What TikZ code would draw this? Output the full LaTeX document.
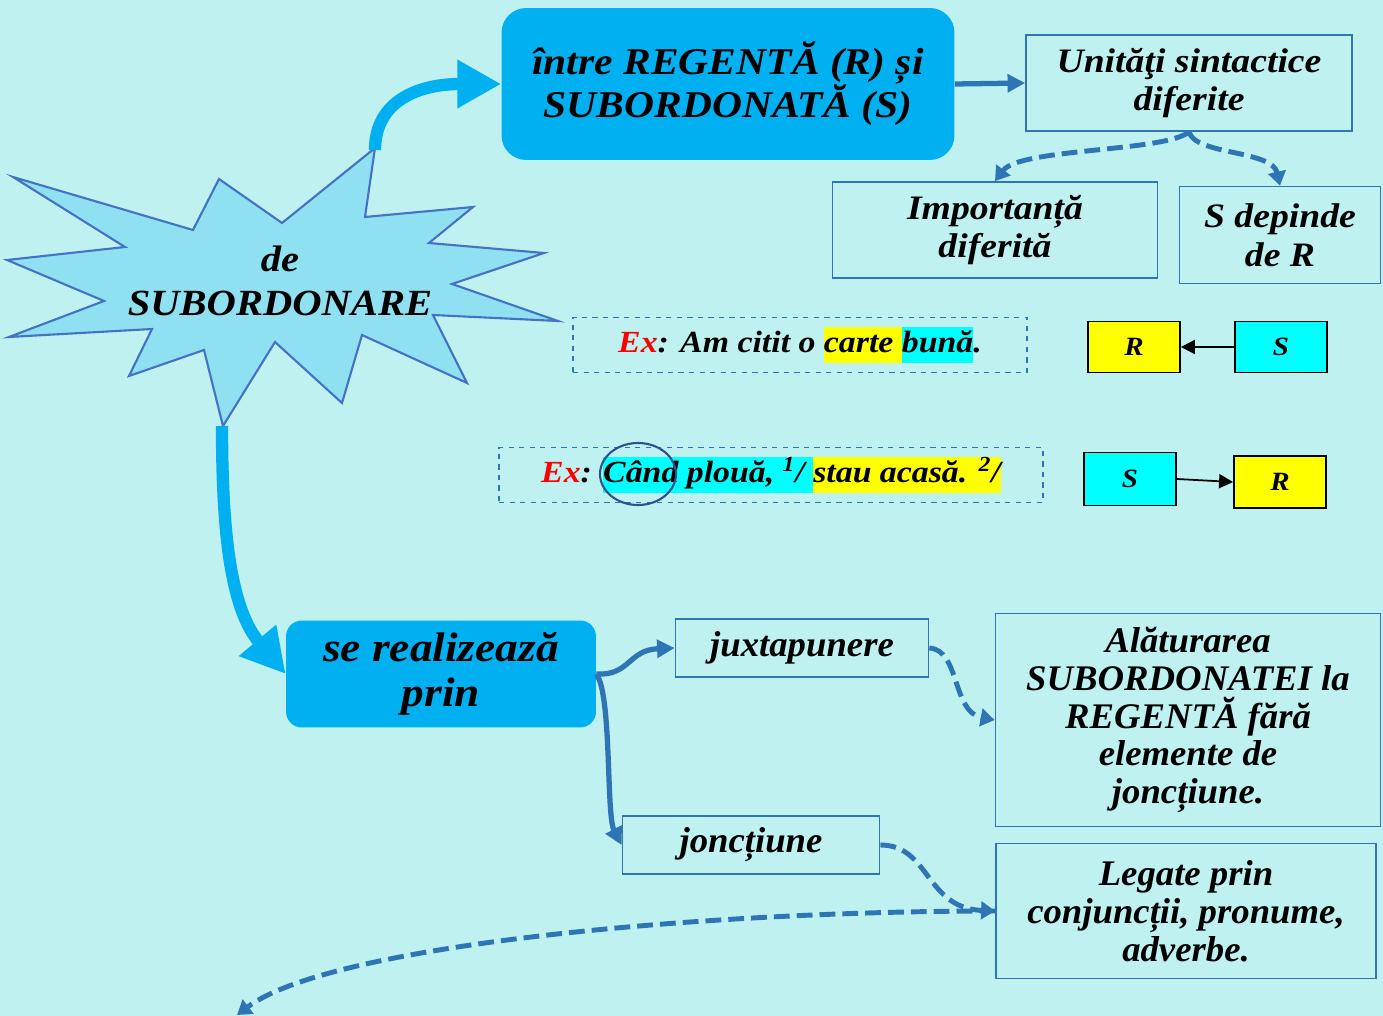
\documentclass[tikz,border=0pt]{standalone}
\usepackage{fontspec}
\setmainfont{Liberation Serif}[FakeStretch=1.1]
\newfontfamily\narrowfont[FakeStretch=1.02]{Liberation Serif}
\usepackage{xcolor}
\usetikzlibrary{arrows.meta, positioning}

\definecolor{bgcyan}{RGB}{191,241,241}
\definecolor{boxblue}{RGB}{0,176,240}
\definecolor{lineblue}{RGB}{46,117,182}
\definecolor{burstfill}{RGB}{143,224,240}
\definecolor{burstline}{RGB}{68,114,196}
\definecolor{ovalblue}{RGB}{47,80,143}
\definecolor{markyellow}{RGB}{255,255,0}
\definecolor{markcyan}{RGB}{0,255,255}

\newcommand{\hlyellow}[1]{{\setlength{\fboxsep}{0pt}\colorbox{markyellow}{\strut #1}}}
\newcommand{\hlcyan}[1]{{\setlength{\fboxsep}{0pt}\colorbox{markcyan}{\strut #1}}}

\begin{document}
\begin{tikzpicture} [x=0.02cm, y=-0.02cm,
                topic/.style={fill=boxblue, rounded corners=12pt, align=center, font=\fontsize{21.5}{24.5}\selectfont\bfseries\itshape},
                note/.style={draw=lineblue, line width=1pt, align=center, font=\fontsize{19.5}{22}\selectfont\bfseries\itshape},
                narrownote/.style={draw=lineblue, line width=1pt, align=center, font=\fontsize{20.5}{21.5}\selectfont\narrowfont\bfseries\itshape},
                example/.style={draw=lineblue, dashed, line width=0.8pt, font=\fontsize{17.5}{20}\selectfont\bfseries\itshape},
                rsbox/.style={draw=black, line width=1pt, minimum width=1.84cm, minimum height=1.02cm, font=\fontsize{15}{17}\selectfont\bfseries\itshape},
                bigarrow/.style={boxblue, line width=7pt, -{Triangle[length=25pt,width=26pt]}},
                linkarrow/.style={lineblue, line width=3pt, -{Triangle[length=10pt,width=10pt]}},
                dasharrow/.style={lineblue, line width=2.8pt, dash pattern=on 9pt off 4pt, -{Triangle[length=8pt,width=10pt]}},
                smallarrow/.style={black, line width=1pt, -{Triangle[length=8pt,width=8pt]}}
            ]
            \fill[bgcyan] (0,0) rectangle (1383,1016);
            \useasboundingbox (0,0) rectangle (1383,1016);

            % Burst
            \begin{scope}
                \draw[fill=burstfill, draw=burstline, line width=1.2pt] (13,177) -- (125,247) -- (7,260) -- (104,301) -- (9,337) -- (152,329) -- (129,376) -- (204,350) -- (223,426) -- (275,342) -- (342,403) -- (362,335) -- (467,383) -- (433,315) -- (558,321) -- (452,284) -- (544,253) -- (429,243) -- (473,207) -- (365,217) -- (375,148) -- (282,223) -- (219,179) -- (193,230) -- cycle;
                \node[align=center, font=\fontsize{21}{25}\selectfont\bfseries\itshape] (burst) at (280,281) {de\\SUBORDONARE};
                \coordinate (burstTop) at (375,150);
                \coordinate (burstBottom) at (222,426);
            \end{scope}

            % Top branch
            \begin{scope}
                \node[topic, rounded corners=14pt, minimum width=9.06cm, minimum height=3.04cm] (between) at (728,84) {între REGENTĂ (R) și\\SUBORDONATĂ (S)};
                \node[note, minimum width=6.52cm, minimum height=1.92cm] (units) at (1189,83) {Unităţi sintactice\\diferite};
                \node[note, minimum width=6.5cm, minimum height=1.92cm] (importance) at (995,230) {Importanță\\diferită};
                \node[note, minimum width=4.02cm, minimum height=1.94cm] (depends) at (1280,235) {S depinde\\de R};
            \end{scope}

            % Examples
            \begin{scope}
                \node[example, minimum width=9.08cm, minimum height=1.1cm] (example1) at (800,345) {\textcolor{red}{Ex}: Am citit o \hlyellow{carte }\hlcyan{bună}.};
                \node[example, minimum width=10.88cm, minimum height=1.1cm] (example2) at (771,475) {\textcolor{red}{Ex}: \hlcyan{Când plouă, \textsuperscript{1}/ }\hlyellow{stau acasă. \textsuperscript{2}/}};
                \draw[ovalblue, line width=1.2pt] (638,474) ellipse [x radius=0.76cm, y radius=0.62cm];
                \node[rsbox, fill=markyellow] (r1) at (1134,347) {R};
                \node[rsbox, fill=markcyan] (s1) at (1281,347) {S};
                \node[rsbox, fill=markcyan, minimum height=1.06cm] (s2) at (1130,479) {S};
                \node[rsbox, fill=markyellow, minimum height=1.04cm] (r2) at (1280,482) {R};
            \end{scope}

            % Bottom branch
            \begin{scope}
                \node[topic, rounded corners=9pt, minimum width=6.2cm, minimum height=2.14cm, font=\fontsize{23.5}{25.5}\selectfont\bfseries\itshape] (realize) at (441,674) {se realizează\\prin};
                \node[narrownote, minimum width=5.06cm, minimum height=1.16cm] (juxta) at (802,648) {juxtapunere};
                \node[narrownote, minimum width=5.14cm, minimum height=1.16cm] (junction) at (751,845) {joncțiune};
                \node[narrownote, minimum width=7.7cm, minimum height=4.26cm] (juxtaNote) at (1188,720) {Alăturarea\\SUBORDONATEI la\\REGENTĂ fără\\elemente de\\joncțiune.};
                \node[narrownote, minimum width=7.6cm, minimum height=2.7cm] (junctionNote) at (1186,911) {Legate prin\\conjuncții, pronume,\\adverbe.};
                \coordinate (nextPage) at (237,1015);
            \end{scope}

            % Connections
            \draw[bigarrow] (burstTop) .. controls (375,100) and (420,84) .. (between.west);
            \draw[bigarrow] (burstBottom) .. controls (222,540) and (232,610) .. (realize.west);
            \draw[linkarrow] (between.east) -- (units.west);
            \draw[dasharrow] (units.south) .. controls (1165,152) and (1020,148) .. (importance.north);
            \draw[dasharrow] (units.south) .. controls (1195,155) and (1272,150) .. (depends.north);
            \draw[smallarrow] (s1.west) -- (r1.east);
            \draw[smallarrow] (s2.east) -- (r2.west);
            \draw[linkarrow] (realize.east) .. controls (630,676) and (628,650) .. (juxta.west);
            \draw[linkarrow] (realize.east) .. controls (612,695) and (606,815) .. (junction.west);
            \draw[dasharrow] (juxta.east) .. controls (960,650) and (952,712) .. (juxtaNote.west);
            \draw[dasharrow] (junction.east) .. controls (930,845) and (925,908) .. (junctionNote.west);
            \draw[dasharrow] (junctionNote.west) .. controls (700,911) and (330,945) .. (nextPage);
        \end{tikzpicture}
\end{document}
